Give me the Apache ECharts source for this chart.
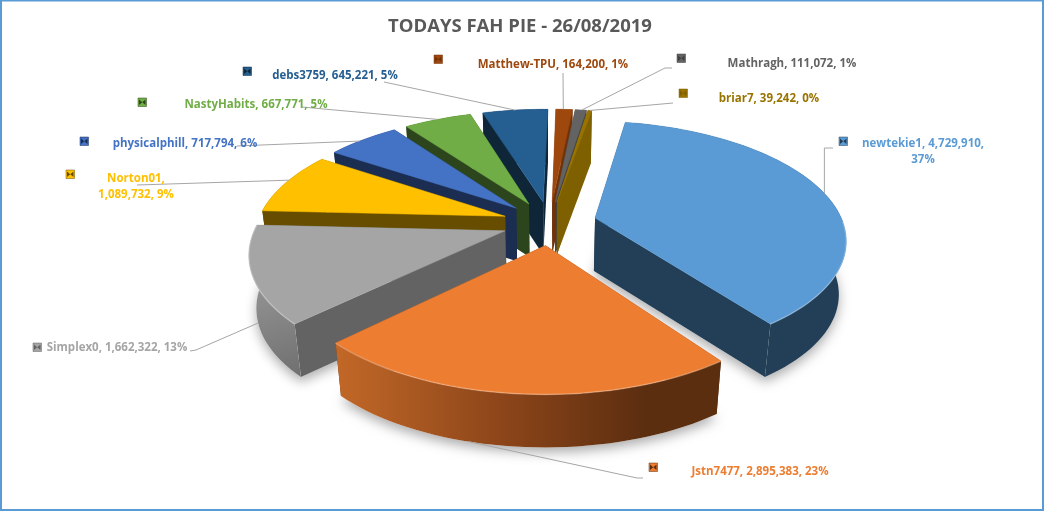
<!DOCTYPE html>
<html>
<head>
<meta charset="utf-8">
<script src="https://cdn.jsdelivr.net/npm/echarts@6/dist/echarts.min.js"></script>
<style>
html, body { margin: 0; padding: 0; background: #fff; }
#chart { width: 1044px; height: 511px; }
</style>
</head>
<body>
<div id="chart"></div>
<script>
const names = ["newtekie1", "Jstn7477", "Simplex0", "Norton01", "physicalphill", "NastyHabits", "debs3759", "Matthew-TPU", "Mathragh", "briar7"];
const values = [4729910, 2895383, 1662322, 1089732, 717794, 667771, 645221, 164200, 111072, 39242];
const percents = ["37%", "23%", "13%", "9%", "6%", "5%", "5%", "1%", "1%", "0%"];
const valueLabels = ["4,729,910", "2,895,383", "1,662,322", "1,089,732", "717,794", "667,771", "645,221", "164,200", "111,072", "39,242"];

const topColors = ["#5b9bd5", "#ed7d31", "#a5a5a5", "#ffc000", "#4472c4", "#70ad47", "#255e91", "#9e480e", "#636363", "#997300"];
const wallColors = ["#223f57", "#5c2e10", "#636363", "#664d00", "#1b2d50", "#2d451c", "#0f2639", "#6f3209", "#404040", "#7f6000"];
const textColors = ["#5b9bd5", "#ed7d31", "#a5a5a5", "#ffc000", "#4472c4", "#70ad47", "#255e91", "#9e480e", "#636363", "#997300"];
// back to front
const drawOrder = [7, 8, 9, 6, 5, 4, 3, 2, 0, 1];

// projection of the tilted pie
const cx = 549.5, cy = 223, R = 248, B = 115, K = 0.17, DEPTH = 53, EXPLODE = 0.19, FIRST_ANGLE = 10;

const total = values.reduce((a, b) => a + b, 0);
const slices = [];
let acc = FIRST_ANGLE;
values.forEach((v) => {
  const span = (v / total) * 360;
  slices.push({ start: acc, end: acc + span, mid: acc + span / 2 });
  acc += span;
});

function rad(d) { return (d * Math.PI) / 180; }

function project(wx, wy, low) {
  const s = 1 / (1 + K * wy);
  let x = R * wx * s;
  let y = -B * wy * s;
  if (low) {
    x *= 0.975;
    y += DEPTH;
  }
  return [cx + x, cy + y];
}

function apexWorld(i) {
  const m = rad(slices[i].mid);
  return [EXPLODE * Math.sin(m), EXPLODE * Math.cos(m)];
}

function rimPoint(i, deg, low) {
  const a = apexWorld(i);
  return project(a[0] + Math.sin(rad(deg)), a[1] + Math.cos(rad(deg)), low);
}

function arc(i, low) {
  const pts = [];
  const n = Math.max(2, Math.ceil((slices[i].end - slices[i].start) / 2));
  for (let j = 0; j <= n; j++) {
    pts.push(rimPoint(i, slices[i].start + ((slices[i].end - slices[i].start) * j) / n, low));
  }
  return pts;
}

function wallFill(i) {
  if (i === 1) {
    return new echarts.graphic.LinearGradient(0, 0, 1, 0, [
      { offset: 0, color: "#c26828" }, { offset: 0.45, color: "#8a4419" }, { offset: 0.8, color: "#5c2e10" }, { offset: 1, color: "#5c2e10" }
    ]);
  }
  if (i === 2) {
    return new echarts.graphic.LinearGradient(0, 0, 1, 1, [
      { offset: 0, color: "#a8a8a8" }, { offset: 1, color: "#6f6f6f" }
    ]);
  }
  return wallColors[i];
}

function renderSlice(params, api) {
  const i = api.value(0);
  const a = apexWorld(i);
  const apexTop = project(a[0], a[1], false);
  const apexLow = project(a[0], a[1], true);
  const top = arc(i, false);
  const low = arc(i, true);
  const first = 0, last = top.length - 1;
  const outline = [apexLow].concat(low);
  const children = [];
  // soft shadow on the page under the slice
  if (i < 3) {
    children.push({
      type: "polygon",
      shape: { points: outline },
      style: { fill: "#fff", shadowBlur: 12, shadowColor: "rgba(0,0,0,0.32)", shadowOffsetY: 5 }
    });
  }
  const walls = [first, last].map((k) => ({
    type: "polygon",
    shape: { points: [apexTop, top[k], low[k], apexLow] },
    style: { fill: wallColors[i] }
  }));
  children.push(...walls);
  children.push({
    type: "polygon",
    shape: { points: top.concat(low.slice().reverse()) },
    style: { fill: wallFill(i) }
  });
  children.push({
    type: "polygon",
    shape: { points: [apexTop].concat(top) },
    style: { fill: topColors[i], stroke: topColors[i], lineWidth: 0.5 }
  });
  // bevel on the front rim
  if (i < 3) {
    children.push({
      type: "polyline",
      shape: { points: top.filter((p) => p[1] > cy - 5) },
      style: { fill: "none", stroke: "rgba(255,255,255,0.25)", lineWidth: 1.5 }
    });
  }
  return { type: "group", children };
}

// label boxes: text centre, key box and where the leader starts on the page
const labelLines = [
  [names[0] + ", " + valueLabels[0] + ",", percents[0]],
  [names[1] + ", " + valueLabels[1] + ", " + percents[1]],
  [names[2] + ", " + valueLabels[2] + ", " + percents[2]],
  [names[3] + ",", valueLabels[3] + ", " + percents[3]],
  [names[4] + ", " + valueLabels[4] + ", " + percents[4]],
  [names[5] + ", " + valueLabels[5] + ", " + percents[5]],
  [names[6] + ", " + valueLabels[6] + ", " + percents[6]],
  [names[7] + ", " + valueLabels[7] + ", " + percents[7]],
  [names[8] + ", " + valueLabels[8] + ", " + percents[8]],
  [names[9] + ", " + valueLabels[9] + ", " + percents[9]]
];
const labelCenters = [[923, 144], [760, 472], [117, 348], [136, 179], [185, 144], [256, 105], [335, 76], [553, 65], [792, 64], [769, 99]];
const keyBoxes = [[839, 137], [649, 463], [33, 343], [66, 170], [80, 137], [138, 98], [243, 67], [434, 55], [677, 54], [679, 89]];
const leaderStarts = [[[833, 148]], [[643, 478], [637, 478]], [[190, 351], [196, 350]], [[137, 185]], [[237, 146]], [[302, 107]], [[384, 82]], [[563, 73]], [[672, 68], [665, 68]], [[673, 103]]];
// position of the leader end along each slice's rim
const leaderAt = [0.5, 0.62, 0.55, 0.55, 0.45, 0.5, 0.5, 0.45, 0.6, 0.5];

function renderLabel(params, api) {
  const i = api.value(0);
  const s = slices[i];
  const deg = s.start + (s.end - s.start) * leaderAt[i];
  const end = rimPoint(i, deg, i === 1 || i === 2);
  const key = keyBoxes[i];
  const c = labelCenters[i];
  // newtekie1's leader drops straight down onto the rim
  const leader = i === 0 ? leaderStarts[i].concat([[end[0], 148], end]) : leaderStarts[i].concat([end]);
  const children = [{
    type: "polyline",
    shape: { points: leader },
    style: { fill: "none", stroke: "#a6a6a6", lineWidth: 1 }
  }, {
    type: "rect",
    shape: { x: key[0], y: key[1], width: 8.5, height: 8.5 },
    style: { fill: topColors[i], stroke: wallColors[i], lineWidth: 0.5 }
  }, {
    type: "polygon",
    shape: { points: [[key[0] + 1, key[1] + 1.5], [key[0] + 4.2, key[1] + 4.2], [key[0] + 7.5, key[1] + 1.5], [key[0] + 7.5, key[1] + 7], [key[0] + 4.2, key[1] + 4.2], [key[0] + 1, key[1] + 7]] },
    style: { fill: wallColors[i] }
  }];
  labelLines[i].forEach((line, n) => {
    children.push({
      type: "text",
      style: {
        x: c[0], y: c[1] + n * 16,
        text: line,
        fill: textColors[i],
        font: "bold 11.5px 'Open Sans', sans-serif",
        align: "center", verticalAlign: "middle"
      }
    });
  });
  return { type: "group", children };
}

const chart = echarts.init(document.getElementById("chart"), null, { renderer: "canvas" });
chart.setOption({
  animation: false,
  backgroundColor: "#fff",
  title: {
    text: "TODAYS FAH PIE - 26/08/2019",
    left: 383,
    top: 12,
    textStyle: { color: "#595959", fontSize: 18.5, fontWeight: "bold", fontFamily: "Open Sans" }
  },
  graphic: [{
    type: "rect",
    shape: { x: 1, y: 0.5, width: 1042, height: 509.5 },
    style: { fill: "none", stroke: "#5b9bd5", lineWidth: 2 },
    silent: true
  }],
  series: [
    {
      type: "custom",
      coordinateSystem: "none",
      silent: true,
      renderItem: renderSlice,
      data: drawOrder.map((i) => [i, values[i]])
    },
    {
      type: "custom",
      coordinateSystem: "none",
      silent: true,
      z: 3,
      renderItem: renderLabel,
      data: values.map((v, i) => [i, v])
    }
  ]
});
</script>
</body>
</html>
